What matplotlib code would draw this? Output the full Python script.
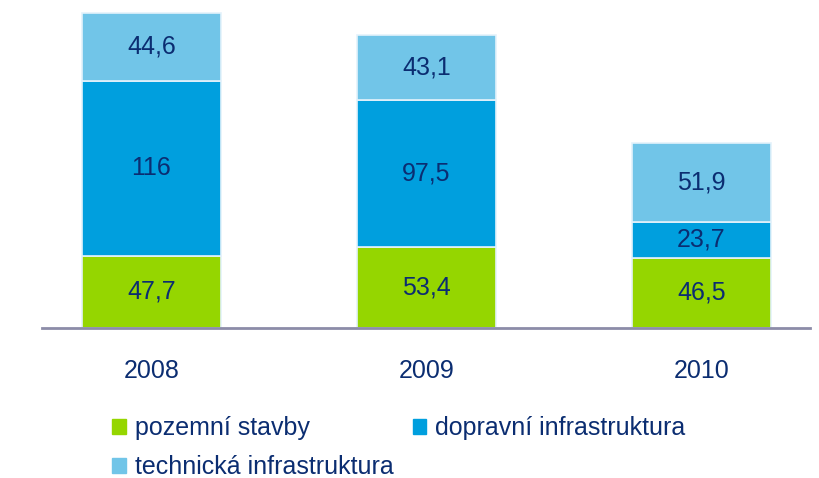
import matplotlib.pyplot as plt
from matplotlib.patches import Patch

plt.rcParams['font.family'] = ['Liberation Sans', 'DejaVu Sans']

years = ['2008', '2009', '2010']
pozemni = [47.7, 53.4, 46.5]
dopravni = [116, 97.5, 23.7]
technicka = [44.6, 43.1, 51.9]
labels = ['pozemní stavby', 'dopravní infrastruktura', 'technická infrastruktura']
colors = ['#95d600', '#009fde', '#71c5e8']
txt = '#0b2d71'

fig = plt.figure(figsize=(8.2, 4.78), dpi=100)
ax = fig.add_axes([0.0512, 0.3138, 0.9366, 0.6862])

x = range(len(years))
bottom = [0, 0, 0]
for vals, c in zip([pozemni, dopravni, technicka], colors):
    bars = ax.bar(x, vals, 0.505, bottom=bottom, color=c, edgecolor='#e4f2fb', linewidth=1.2)
    for b, v, b0 in zip(bars, vals, bottom):
        s = ('%g' % v).replace('.', ',')
        ax.text(b.get_x() + b.get_width() / 2, b0 + v / 2, s, ha='center', va='center',
                fontsize=18, color=txt)
    bottom = [a + v for a, v in zip(bottom, vals)]

ax.set_xlim(-0.398, 2.395)
ax.set_ylim(0, 217)
for s in ['top', 'right', 'left']:
    ax.spines[s].set_visible(False)
ax.spines['bottom'].set_color('#8c8ca8')
ax.spines['bottom'].set_linewidth(2)
ax.set_yticks([])
ax.set_xticks(list(x))
ax.set_xticklabels(years, fontsize=18, color=txt)
ax.tick_params(axis='x', length=0, pad=22)

handles = [Patch(color=c) for c in colors]
order = [0, 2, 1]
fig.legend([handles[i] for i in order], [labels[i] for i in order], ncol=2, loc='upper left',
           bbox_to_anchor=(0.125, 0.15), frameon=False, fontsize=18, labelcolor=txt,
           handlelength=0.55, handleheight=0.55, handletextpad=0.35, columnspacing=0.75,
           labelspacing=0.6, borderaxespad=0)

fig.savefig('out.png', dpi=100)
